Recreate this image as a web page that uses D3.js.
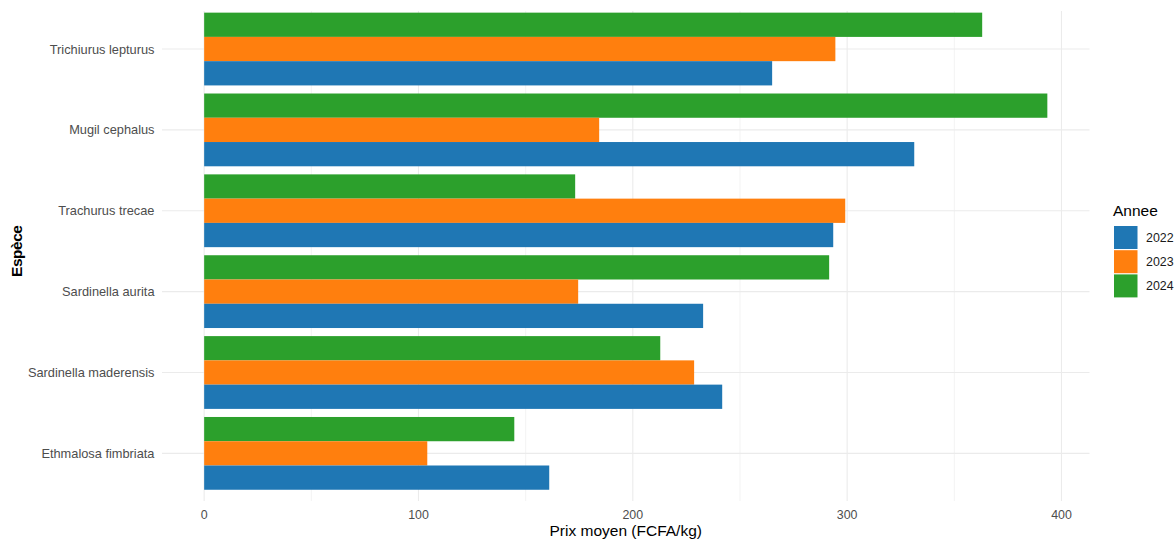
<!DOCTYPE html>
<html><head><meta charset="utf-8">
<script src="https://cdn.jsdelivr.net/npm/d3@7"></script>
<style>body{margin:0;background:#fff;} text{font-family:"Liberation Sans",Arial,sans-serif;}</style>
</head><body><svg id="c" width="1176" height="542"></svg>
<script>
const species = ["Trichiurus lepturus","Mugil cephalus","Trachurus trecae","Sardinella aurita","Sardinella maderensis","Ethmalosa fimbriata"];
const years = ["2024","2023","2022"];
const legendYears = ["2022","2023","2024"];
const colors = {"2022":"#1f77b4","2023":"#ff7f0e","2024":"#2ca02c"};
const v2022 = [265, 331.3, 293.5, 232.8, 241.7, 161];
const v2023 = [294.5, 184.3, 299.1, 174.5, 228.6, 104.1];
const v2024 = [363, 393.4, 173.1, 291.6, 212.8, 144.7];
const xTicks = [0,100,200,300,400];
const xMinor = [50,150,250,350];

const values = {"2022":v2022,"2023":v2023,"2024":v2024};
const data = [];
species.forEach((s,i)=>years.forEach(y=>data.push({s,y,v:values[y][i]})));

const svg = d3.select("#c");
const pLeft=162, pRight=1089.5, pTop=11, pBottom=501;
const maxV = d3.max(data,d=>d.v);
const x = d3.scaleLinear().domain([-0.05*maxV, maxV*1.05]).range([pLeft,pRight]);
const y = d3.scaleBand().domain(species).range([8.6,493.8]).paddingInner(0.1).paddingOuter(0.05);
const yi = d3.scaleBand().domain(years).range([0,y.bandwidth()]);

const g = svg.append("g");
g.selectAll(".mn").data(xMinor).join("line")
 .attr("x1",d=>x(d)).attr("x2",d=>x(d)).attr("y1",pTop).attr("y2",pBottom)
 .attr("stroke","#ebebeb").attr("stroke-width",0.6);
g.selectAll(".mj").data(xTicks).join("line")
 .attr("x1",d=>x(d)).attr("x2",d=>x(d)).attr("y1",pTop).attr("y2",pBottom)
 .attr("stroke","#ebebeb").attr("stroke-width",1.1);
g.selectAll(".hy").data(species).join("line")
 .attr("x1",pLeft).attr("x2",pRight).attr("y1",d=>y(d)+y.bandwidth()/2).attr("y2",d=>y(d)+y.bandwidth()/2)
 .attr("stroke","#ebebeb").attr("stroke-width",1.1);

g.selectAll(".bar").data(data).join("rect")
 .attr("x",x(0)).attr("y",d=>y(d.s)+yi(d.y))
 .attr("width",d=>x(d.v)-x(0)).attr("height",yi.bandwidth())
 .attr("fill",d=>colors[d.y]);

g.selectAll(".yl").data(species).join("text")
 .attr("x",154.5).attr("y",d=>y(d)+y.bandwidth()/2).attr("dy","0.35em")
 .attr("text-anchor","end").attr("font-size",12.8).attr("fill","#4d4d4d").text(d=>d);
g.selectAll(".xl").data(xTicks).join("text")
 .attr("x",d=>x(d)).attr("y",519).attr("text-anchor","middle")
 .attr("font-size",12.4).attr("fill","#4d4d4d").text(d=>d);

svg.append("text").attr("x",(pLeft+pRight)/2).attr("y",535.5).attr("text-anchor","middle")
 .attr("font-size",15.5).attr("fill","#000").text("Prix moyen (FCFA/kg)");
svg.append("text").attr("transform","translate(22,251) rotate(-90)").attr("text-anchor","middle")
 .attr("font-size",15.5).attr("font-weight","bold").attr("fill","#000").attr("textLength",52).text("Espèce");

const lg = svg.append("g");
lg.append("text").attr("x",1113).attr("y",216).attr("font-size",15.5).attr("fill","#000").text("Annee");
legendYears.forEach((yr,i)=>{
  lg.append("rect").attr("x",1114).attr("y",226+i*24.2).attr("width",23.5).attr("height",23).attr("fill",colors[yr]);
  lg.append("text").attr("x",1146).attr("y",226+i*24.2+11.5).attr("dy","0.35em").attr("font-size",12.4).attr("fill","#1a1a1a").text(yr);
});
</script></body></html>
